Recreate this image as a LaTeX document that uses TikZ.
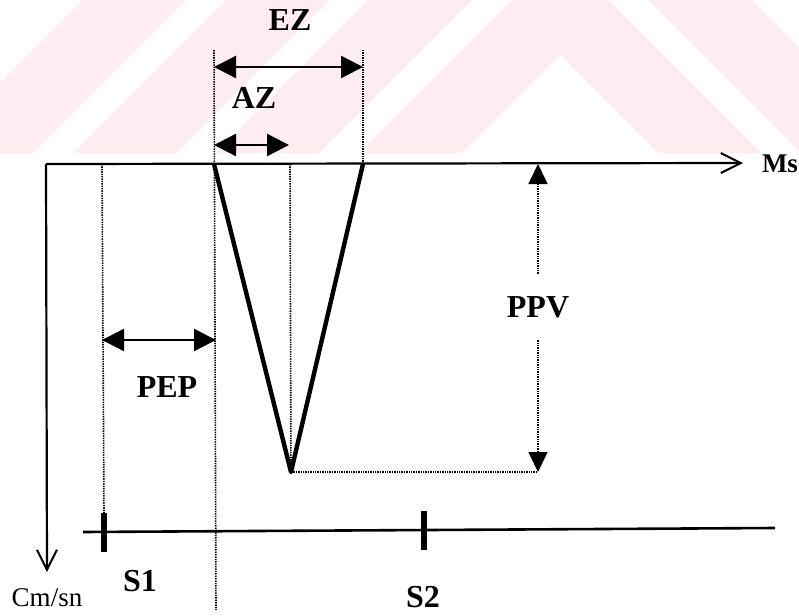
\documentclass[tikz,border=0pt]{standalone}
\usepackage{fontspec}
\setmainfont{Liberation Serif}
\usetikzlibrary{arrows.meta}
\definecolor{wmpink}{RGB}{253,236,240}
\tikzstyle{lbl} = [font=\fontsize{16}{19}\selectfont\bfseries, inner sep=0pt]
\tikzstyle{axis} = [line width=1.1pt, -{Straight Barb[length=10pt,width=10pt,line width=1pt]}]
\tikzstyle{dim} = [line width=1.2pt, {Triangle[length=11pt,width=11pt]}-{Triangle[length=11pt,width=11pt]}]
\tikzstyle{guide} = [line width=0.8pt, dash pattern=on 0.7pt off 0.5pt]
\tikzstyle{wave} = [line width=2.2pt, line join=round]
\tikzstyle{tick} = [line width=2.6pt]

\begin{document}
\begin{tikzpicture}[x=0.5pt, y=-0.5pt]
        \useasboundingbox (0,0) rectangle (799,616);
        % Watermark
        \begin{scope}
            \clip (0,0) rectangle (799,152);
            \fill[wmpink, even odd rule] (-440,952) -- (560,-48) -- (1560,952) -- cycle
                (-440,1055) -- (560,55) -- (1560,1055) -- cycle;
            \fill[wmpink, even odd rule] (-440,809) -- (560,-191) -- (1560,809) -- cycle
                (-440,912) -- (560,-88) -- (1560,912) -- cycle;
            \fill[wmpink] (560,-334) -- (-440,666) -- (-440,769) -- (560,-231) -- cycle;
            \fill[wmpink] (560,-477) -- (-440,523) -- (-440,626) -- (560,-374) -- cycle;
        \end{scope}

        % Coordinates
        \coordinate (origin) at (46,164);
        \coordinate (xend) at (743,163);
        \coordinate (yend) at (47,572);
        \coordinate (vleft) at (214,164);
        \coordinate (vbot) at (291,472);
        \coordinate (vright) at (363,164);
        \coordinate (vmid) at (290,164);
        \coordinate (ppvtop) at (538,164);
        \coordinate (ppvbot) at (538,472);
        \coordinate (baseL) at (83,532);
        \coordinate (baseR) at (775,528);
        \coordinate (s1top) at (104,513);
        \coordinate (s1bot) at (104,552);
        \coordinate (s2top) at (424,511);
        \coordinate (s2bot) at (424,550);
        \coordinate (g1top) at (102,164);
        \coordinate (g2top) at (214,50);
        \coordinate (g2bot) at (216,610);
        \coordinate (g3top) at (363,50);
        \coordinate (ezL) at (214,67);
        \coordinate (ezR) at (363,67);
        \coordinate (azL) at (214,145);
        \coordinate (azR) at (289,145);
        \coordinate (pepL) at (102,340);
        \coordinate (pepR) at (216,340);

        % Nodes
        \node (ms) [font=\fontsize{13.5}{16}\selectfont\bfseries] at (780,164) {Ms};
        \node (cmsn) [font=\fontsize{13.5}{16}\selectfont, inner sep=0pt] at (47,598) {Cm/sn};
        \node (ez) [lbl] at (290,20) {EZ};
        \node (az) [lbl] at (254,98) {AZ};
        \node (pep) [lbl] at (167,387) {PEP};
        \node (ppv) [lbl, inner ysep=11pt] at (538,307) {PPV};
        \node (s1) [lbl] at (140,581) {S1};
        \node (s2) [lbl] at (423,597) {S2};

        % Guides
        \draw[guide] (g1top) -- (s1top);
        \draw[guide] (g2top) -- (g2bot);
        \draw[guide] (g3top) -- (vright);
        \draw[guide] (vmid) -- (vbot);
        \draw[guide] (vbot) -- (ppvbot);

        % Axes
        \draw[axis] (origin) -- (xend);
        \draw[axis] (origin) -- (yend);
        \draw[line width=1.3pt] (baseL) -- (baseR);
        \draw[tick] (s1top) -- (s1bot);
        \draw[tick] (s2top) -- (s2bot);

        % Wave
        \draw[wave] (vleft) -- (vbot) -- (vright);

        % Arrows
        \draw[dim] (ezL) -- (ezR);
        \draw[dim] (azL) -- (azR);
        \draw[dim] (pepL) -- (pepR);
        \draw[guide, -{Triangle[length=10pt,width=9.5pt]}] (ppv.north) -- (ppvtop);
        \draw[guide, -{Triangle[length=10pt,width=9.5pt]}] (ppv.south) -- (ppvbot);
    \end{tikzpicture}
\end{document}
